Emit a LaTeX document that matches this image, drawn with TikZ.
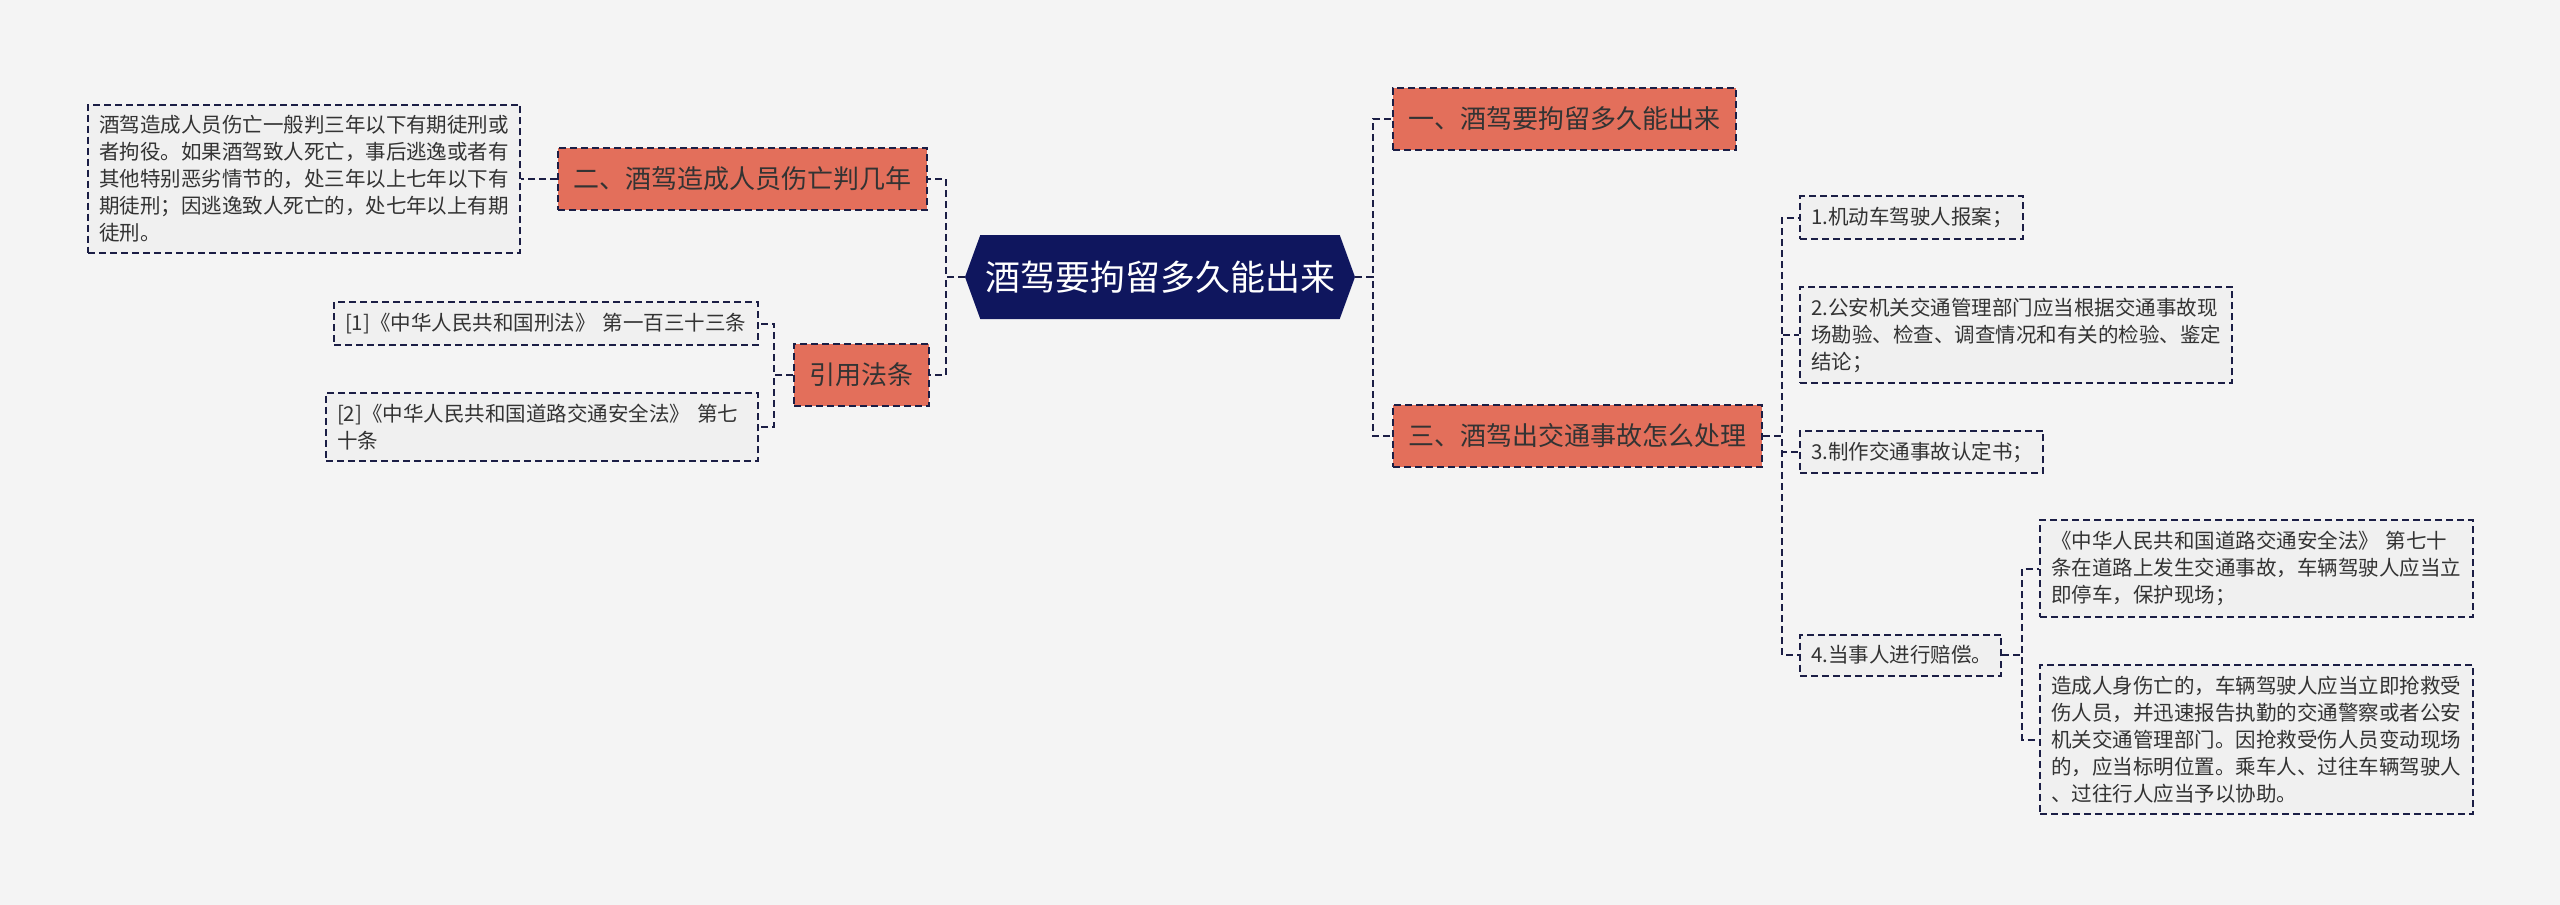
\documentclass[tikz,border=0pt]{standalone}
\usepackage{fontspec}
\setmainfont{Noto Sans CJK SC}
\usetikzlibrary{shapes.symbols}
\definecolor{bgcol}{HTML}{F4F4F4}
\definecolor{rootnavy}{HTML}{0F165E}
\definecolor{topicred}{HTML}{E36F5B}
\definecolor{linenavy}{HTML}{1B1E45}
\definecolor{leafgray}{HTML}{F0F0F0}
\definecolor{inktext}{HTML}{333333}

\begin{document}
\begin{tikzpicture}[
        x=1pt, y=-1pt,
        rootnode/.style={
            signal,
            signal to=west and east,
            signal pointer angle=140,
            fill=rootnavy,
            text=white,
            font=\fontsize{35}{40}\selectfont,
            minimum width=390pt,
            minimum height=84pt,
            inner sep=0pt
        },
        topic/.style={
            draw=linenavy,
            line width=2pt,
            dash pattern=on 7pt off 4pt,
            fill=topicred,
            text=inktext,
            font=\fontsize{26}{30}\selectfont,
            minimum height=62pt,
            inner xsep=15.5pt,
            inner ysep=0pt
        },
        leaf/.style={
            draw=linenavy,
            line width=2pt,
            dash pattern=on 7pt off 4pt,
            fill=leafgray,
            text=inktext,
            font=\fontsize{20.5}{27}\selectfont,
            align=left,
            inner xsep=11pt,
            inner ysep=11pt
        },
        link/.style={draw=linenavy, line width=2pt, dash pattern=on 7pt off 4pt}
    ]

    \fill[bgcol] (0,0) rectangle (2560,905);
    \useasboundingbox (0,0) rectangle (2560,905);

    \node[rootnode] (root) at (1160,277) {酒驾要拘留多久能出来};

    \node[topic] (one) at (1564.5,119) {一、酒驾要拘留多久能出来};
    \node[topic] (three) at (1577.5,436) {三、酒驾出交通事故怎么处理};
    \node[topic] (two) at (742.5,179) {二、酒驾造成人员伤亡判几年};
    \node[topic] (cite) at (861.5,375) {引用法条};

    \node[leaf, text width=410pt] (twoA) at (304,179)
        {酒驾造成人员伤亡一般判三年以下有期徒刑或\\者拘役。如果酒驾致人死亡，事后逃逸或者有\\其他特别恶劣情节的，处三年以上七年以下有\\期徒刑；因逃逸致人死亡的，处七年以上有期\\徒刑。};

    \node[leaf, text width=402pt] (citeA) at (546,323.5)
        {[1]《中华人民共和国刑法》 第一百三十三条};
    \node[leaf, text width=410pt] (citeB) at (542,427)
        {[2]《中华人民共和国道路交通安全法》 第七\\十条};

    \node[leaf, text width=201pt] (stepA) at (1911.5,217.5)
        {1.机动车驾驶人报案；};
    \node[leaf, text width=410pt] (stepB) at (2016,335)
        {2.公安机关交通管理部门应当根据交通事故现\\场勘验、检查、调查情况和有关的检验、鉴定\\结论；};
    \node[leaf, text width=221pt] (stepC) at (1921.5,452)
        {3.制作交通事故认定书；};
    \node[leaf, text width=179pt] (stepD) at (1900.5,655)
        {4.当事人进行赔偿。};

    \node[leaf, text width=411pt] (lawA) at (2256.5,568.5)
        {《中华人民共和国道路交通安全法》 第七十\\条在道路上发生交通事故，车辆驾驶人应当立\\即停车，保护现场；};
    \node[leaf, text width=411pt] (lawB) at (2256.5,739.5)
        {造成人身伤亡的，车辆驾驶人应当立即抢救受\\伤人员，并迅速报告执勤的交通警察或者公安\\机关交通管理部门。因抢救受伤人员变动现场\\的，应当标明位置。乘车人、过往车辆驾驶人\\、过往行人应当予以协助。};

    \draw[link] (root.west) -- ++(-19,0) |- (two.east);
    \draw[link] (root.west) -- ++(-19,0) |- (cite.east);
    \draw[link] (two.west) -- (twoA.east);
    \draw[link] (cite.west) -- ++(-19,0) |- (citeA.east);
    \draw[link] (cite.west) -- ++(-19,0) |- (citeB.east);

    \draw[link] (root.east) -- ++(18,0) |- (one.west);
    \draw[link] (root.east) -- ++(18,0) |- (three.west);
    \foreach \s in {stepA,stepB,stepC,stepD}
        \draw[link] (three.east) -- ++(19,0) |- (\s.west);
    \draw[link] (stepD.east) -- ++(20,0) |- (lawA.west);
    \draw[link] (stepD.east) -- ++(20,0) |- (lawB.west);

    \end{tikzpicture}
\end{document}
